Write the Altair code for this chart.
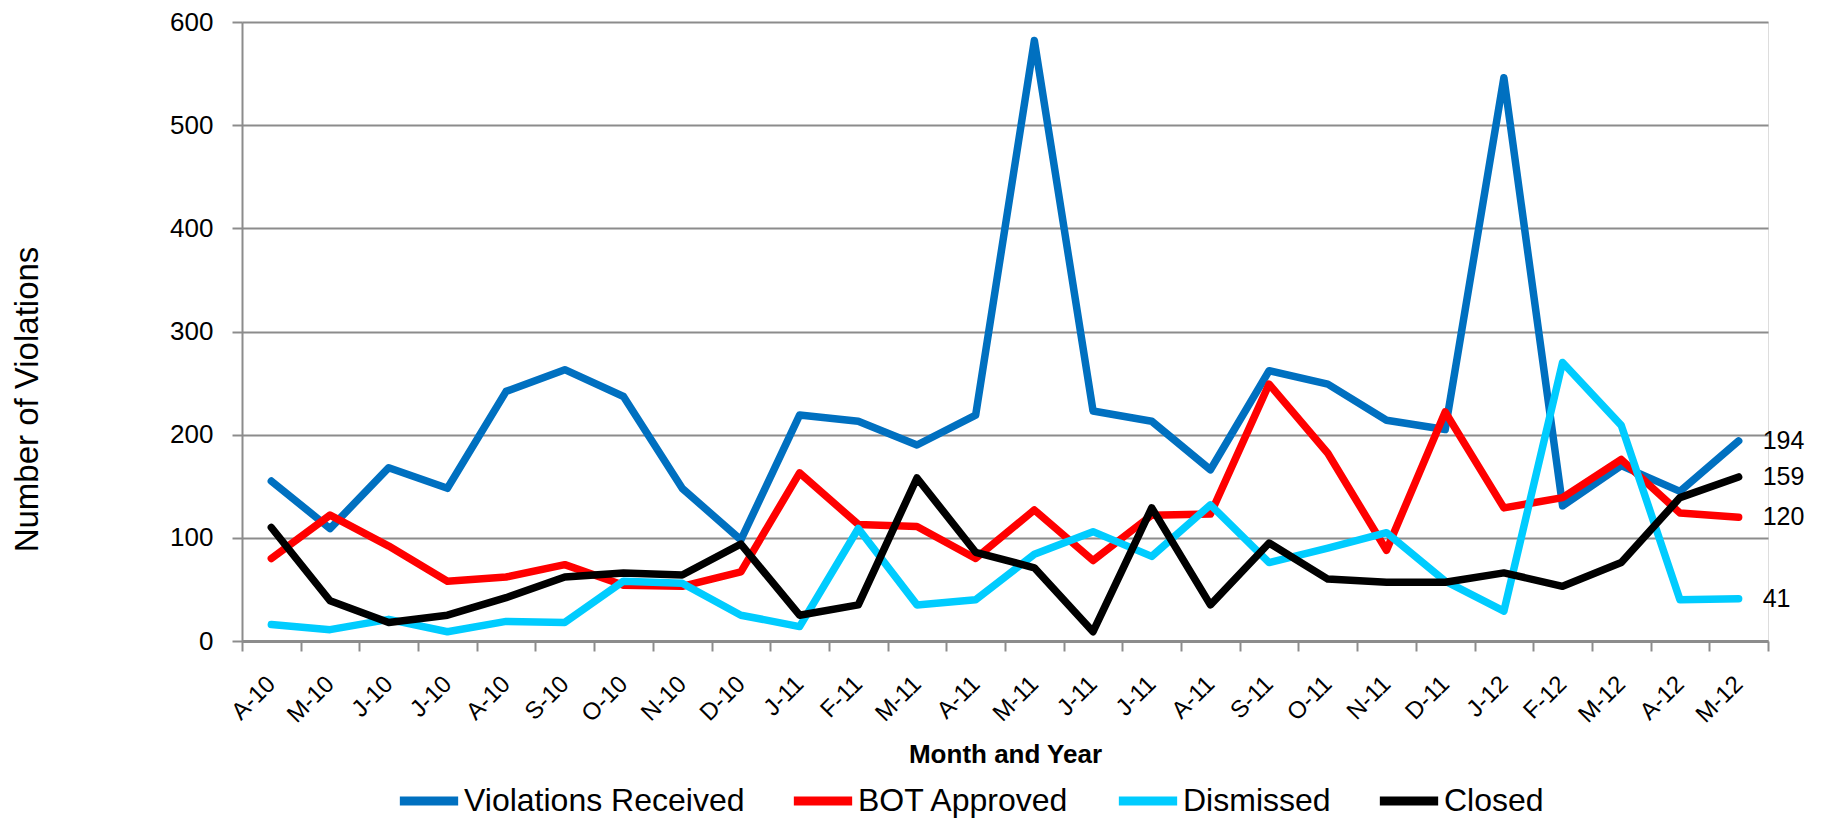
import altair as alt
import pandas as pd

months = ["A-10", "M-10", "J-10", "J-10", "A-10", "S-10", "O-10", "N-10", "D-10",
          "J-11", "F-11", "M-11", "A-11", "M-11", "J-11", "J-11", "A-11", "S-11",
          "O-11", "N-11", "D-11", "J-12", "F-12", "M-12", "A-12", "M-12"]
series = ["Violations Received", "BOT Approved", "Dismissed", "Closed"]
colors = ["#0070C0", "#FF0000", "#00CCFF", "#000000"]
received = [155, 109, 168, 148, 242, 263, 237, 148, 98, 219, 213, 190, 219, 582,
            223, 213, 166, 262, 249, 214, 205, 546, 131, 170, 145, 194]
approved = [80, 122, 92, 58, 62, 74, 54, 53, 67, 163, 113, 111, 80, 127, 78, 122,
            123, 249, 182, 88, 222, 129, 139, 176, 124, 120]
dismissed = [16, 11, 21, 9, 19, 18, 58, 56, 25, 14, 109, 35, 40, 84, 106, 82, 132,
             76, 90, 105, 58, 29, 270, 209, 40, 41]
closed = [110, 39, 18, 25, 42, 62, 66, 64, 94, 25, 35, 158, 86, 71, 9, 129, 35, 95,
          60, 57, 57, 66, 53, 76, 139, 159]

values = [received, approved, dismissed, closed]
rows = []
for s, vals in zip(series, values):
    for i, v in enumerate(vals):
        rows.append({"key": f"{i:02d}", "idx": i, "series": s, "value": v})
df = pd.DataFrame(rows)

FONT = "Liberation Sans, Arial, sans-serif"
GRAY = "#8C8C8C"
label_expr = "[" + ",".join(f"'{m}'" for m in months) + "][toNumber(datum.value)]"

color_scale = alt.Scale(domain=series, range=colors)

x_enc = alt.X(
    "key:O",
    scale=alt.Scale(type="band", paddingInner=0, paddingOuter=0),
    axis=alt.Axis(
        title="Month and Year", labelExpr=label_expr, labelAngle=-45,
        labelAlign="right", labelBaseline="middle", tickBand="extent",
        tickSize=10, tickColor=GRAY, tickWidth=2, domainColor=GRAY,
        domainWidth=3, grid=False, labelFontSize=24, labelFont=FONT,
        labelPadding=29, titleFont=FONT, titleFontSize=26, titleFontWeight="bold",
        titleBaseline="middle", titleY=113, labelColor="#000000",
        titleColor="#000000",
    ),
)
y_enc = alt.Y(
    "value:Q",
    scale=alt.Scale(domain=[0, 600], nice=False),
    axis=alt.Axis(
        title="Number of Violations", values=[0, 100, 200, 300, 400, 500, 600],
        gridColor=GRAY, gridWidth=2, tickColor=GRAY, tickSize=10, tickWidth=2,
        domainColor=GRAY, domainWidth=2, labelFont=FONT, labelFontSize=26,
        labelPadding=19, labelColor="#000000", titleFont=FONT, titleFontSize=33,
        titleFontWeight="normal", titleColor="#000000", titleAngle=-90,
        titleX=-215, titleY=377, titleAlign="center", titleBaseline="middle",
    ),
)

layers = []
for s in series:
    layers.append(
        alt.Chart(df).transform_filter(alt.datum.series == s).mark_line(
            strokeWidth=7.5, strokeCap="round", strokeJoin="round"
        ).encode(
            x=x_enc, y=y_enc,
            color=alt.Color(
                "series:N", scale=color_scale,
                legend=alt.Legend(
                    title=None, orient="none", direction="horizontal",
                    legendX=153, legendY=745, symbolType="stroke",
                    symbolStrokeWidth=9, symbolSize=3400, labelFont=FONT,
                    labelFontSize=32, labelOffset=1, columnPadding=30,
                    labelColor="#000000", labelLimit=400, padding=0,
                ),
            ),
        )
    )

end_labels = alt.Chart(df).transform_filter(alt.datum.idx == 25).mark_text(
    align="left", baseline="middle", dx=24, font=FONT, fontSize=25, color="#000000"
).encode(x=x_enc, y=y_enc, text="value:Q")

chart = alt.layer(*layers, end_labels).properties(
    width=1526, height=619,
    autosize=alt.AutoSizeParams(type="none"),
    padding={"left": 234, "top": 14, "right": 47, "bottom": 180},
).configure_view(stroke=None).configure(background="#FFFFFF")

chart.save("out.html", embed_options={"renderer": "svg", "actions": False})
